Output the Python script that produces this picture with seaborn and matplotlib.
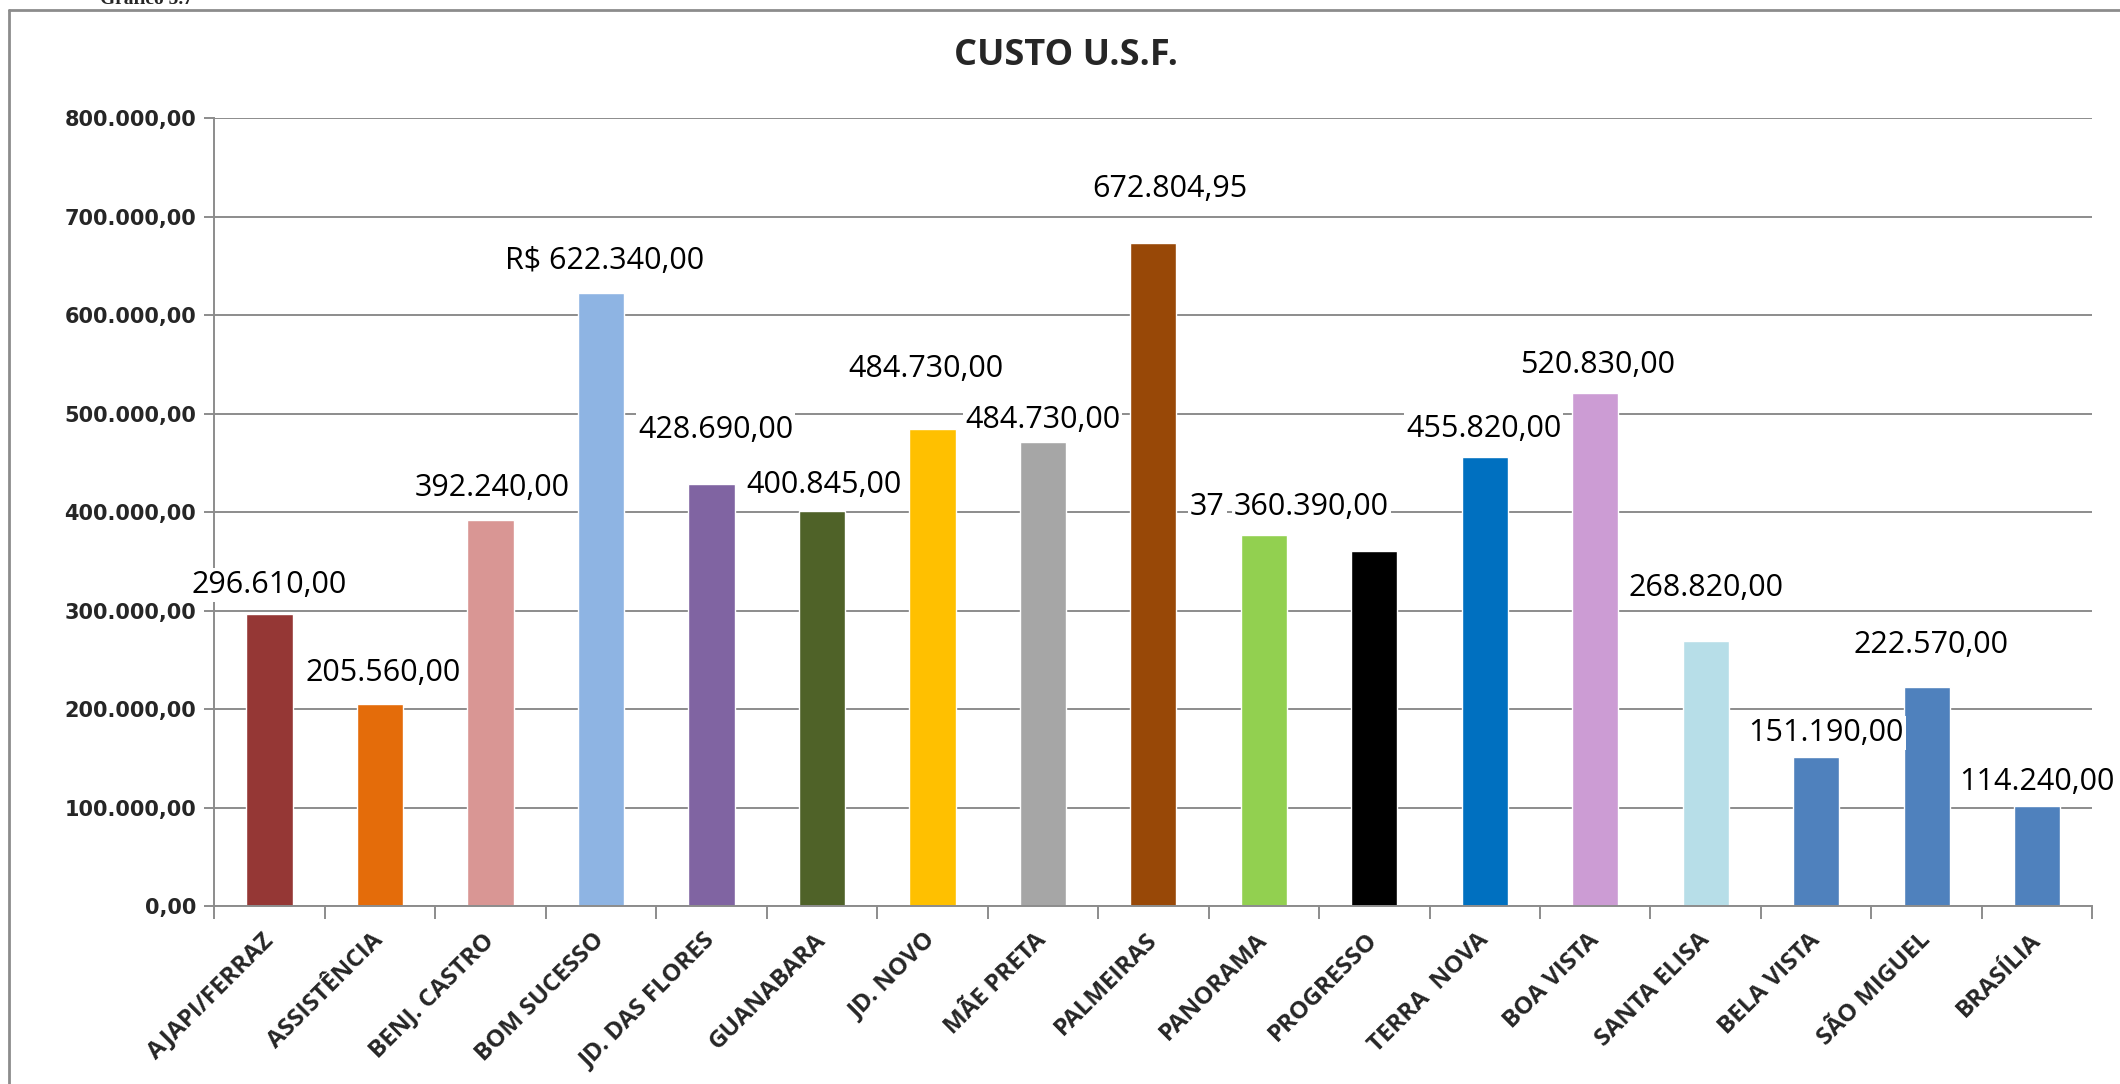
import matplotlib
import matplotlib.pyplot as plt
import matplotlib.ticker as mticker
import seaborn as sns

matplotlib.use('Agg')

# Data
unidades = ['AJAPI/FERRAZ', 'ASSISTÊNCIA', 'BENJ. CASTRO', 'BOM SUCESSO',
            'JD. DAS FLORES', 'GUANABARA', 'JD. NOVO', 'MÃE PRETA', 'PALMEIRAS',
            'PANORAMA', 'PROGRESSO', 'TERRA  NOVA', 'BOA VISTA', 'SANTA ELISA',
            'BELA VISTA', 'SÃO MIGUEL', 'BRASÍLIA']
custo = [296610.00, 205560.00, 392240.00, 622340.00, 428690.00, 400845.00,
         484730.00, 471600.00, 672804.95, 377000.00, 360390.00, 455820.00,
         520830.00, 268820.00, 151190.00, 222570.00, 102000.00]
rotulos = ['296.610,00', '205.560,00', '392.240,00', 'R$ 622.340,00', '428.690,00',
           '400.845,00', '484.730,00', '484.730,00', '672.804,95', '37',
           '360.390,00', '455.820,00', '520.830,00', '268.820,00', '151.190,00',
           '222.570,00', '114.240,00']
cores = ['#953735', '#E46C0A', '#D99694', '#8EB4E3', '#8064A2', '#4F6228',
         '#FFC000', '#A6A6A6', '#984807', '#92D050', '#000000', '#0070C0',
         '#CC9CD4', '#B7DEE8', '#4F81BD', '#4F81BD', '#4F81BD']
# where each data label sits (category position, value position)
rot_x = [0.0, 1.03, 2.02, 3.03, 4.04, 5.02, 5.94, 7.0, 8.15, 8.33,
         9.43, 10.99, 12.02, 13.0, 14.09, 15.04, 16.0]
rot_y = [326000, 236500, 425000, 655000, 483000, 428000, 545000, 494000, 728000, 405000,
         405000, 484000, 549000, 323000, 176000, 265000, 126000]

sns.set_style('white')
grid_cor = '#8C8C8C'

fig = plt.figure(figsize=(21.2, 10.84), dpi=100)
ax = fig.add_axes([0.101, 0.164, 0.886, 0.727])

sns.barplot(x=unidades, y=custo, hue=unidades, palette=cores, width=0.42,
            saturation=1, legend=False, ax=ax, zorder=2)

ax.set_ylim(0, 800000)
ax.set_xlim(-0.5, len(unidades) - 0.5)
ax.yaxis.set_major_locator(mticker.MultipleLocator(100000))
ax.yaxis.set_major_formatter(mticker.FuncFormatter(
    lambda v, p: f'{v:,.2f}'.replace(',', '#').replace('.', ',').replace('#', '.')))
ax.grid(axis='y', color=grid_cor, linewidth=1.4, zorder=0)
ax.set_axisbelow(True)

for s in ['top', 'right']:
    ax.spines[s].set_visible(False)
for s in ['left', 'bottom']:
    ax.spines[s].set_color(grid_cor)
    ax.spines[s].set_linewidth(1.4)

ax.tick_params(axis='y', left=True, length=7, width=1.4, color=grid_cor, pad=6)
for t in ax.get_yticklabels():
    t.set_fontfamily('DejaVu Sans')
    t.set_fontweight('bold')
    t.set_fontsize(15)

# category separators as minor ticks
ax.set_xticks([i - 0.5 for i in range(len(unidades) + 1)], minor=True)
ax.tick_params(axis='x', which='minor', bottom=True, length=9, width=1.4, color=grid_cor)
ax.tick_params(axis='x', which='major', bottom=False, length=0, pad=22)
ax.set_xticks(range(len(unidades)))
ax.set_xticklabels(unidades, rotation=45, ha='right', va='center', rotation_mode='anchor',
                   fontfamily='Open Sans', fontweight='bold', fontsize=17.5)
ax.set_xlabel('')
ax.set_ylabel('')

# data labels with white boxes
for i, txt in enumerate(rotulos):
    ha = 'left' if txt == '37' else 'center'
    ax.text(rot_x[i], rot_y[i], txt, ha=ha, va='center', fontfamily='Open Sans', fontsize=22,
            color='black', zorder=5 + i, clip_on=False,
            bbox=dict(facecolor='white', edgecolor='none', pad=1.5))

fig.text(0.503, 0.948, 'CUSTO U.S.F.', ha='center', va='center', fontfamily='Open Sans',
         fontweight='bold', fontsize=26)
fig.text(0.047, 1.0, 'Gráfico 5.7', ha='left', va='center', fontfamily='Liberation Serif',
         fontweight='bold', fontsize=14)

# outer chart frame (only top and left show in the picture)
fig.add_artist(plt.Line2D([9 / 2120, 9 / 2120], [0, 1 - 10 / 1084], color=grid_cor,
                          linewidth=2, transform=fig.transFigure))
fig.add_artist(plt.Line2D([9 / 2120, 1], [1 - 10 / 1084, 1 - 10 / 1084], color=grid_cor,
                          linewidth=2, transform=fig.transFigure))

fig.savefig('out.png', dpi=100)
plt.close()
